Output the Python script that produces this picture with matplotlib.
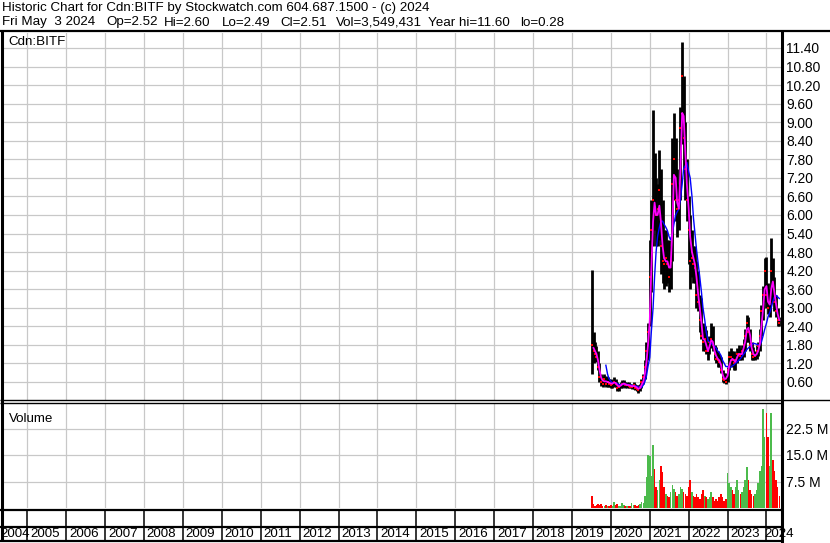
import matplotlib
matplotlib.use("Agg")
import matplotlib.pyplot as plt
from matplotlib.lines import Line2D
import numpy as np
import pandas as pd

# ---- data (semi-monthly samples) ----
dates = [
    "2019-07-08", "2019-07-22", "2019-08-05", "2019-08-19", "2019-09-02", "2019-09-16",
    "2019-10-01", "2019-10-15", "2019-11-01", "2019-11-15", "2019-12-01", "2019-12-15",
    "2020-01-01", "2020-01-15", "2020-02-01", "2020-02-15", "2020-03-01", "2020-03-15",
    "2020-04-01", "2020-04-15", "2020-05-01", "2020-05-15", "2020-06-01", "2020-06-15",
    "2020-07-01", "2020-07-15", "2020-08-01", "2020-08-15", "2020-09-01", "2020-09-15",
    "2020-10-01", "2020-10-15", "2020-11-01", "2020-11-15", "2020-12-01", "2020-12-15",
    "2021-01-01", "2021-01-15", "2021-02-01", "2021-02-15", "2021-03-01", "2021-03-15",
    "2021-04-01", "2021-04-15", "2021-05-01", "2021-05-15", "2021-06-01", "2021-06-15",
    "2021-07-01", "2021-07-15", "2021-08-01", "2021-08-15", "2021-09-01", "2021-09-15",
    "2021-10-01", "2021-10-15", "2021-11-01", "2021-11-15", "2021-12-01", "2021-12-15",
    "2022-01-01", "2022-01-15", "2022-02-01", "2022-02-15", "2022-03-01", "2022-03-15",
    "2022-04-01", "2022-04-15", "2022-05-01", "2022-05-15", "2022-06-01", "2022-06-15",
    "2022-07-01", "2022-07-15", "2022-08-01", "2022-08-15", "2022-09-01", "2022-09-15",
    "2022-10-01", "2022-10-15", "2022-11-01", "2022-11-15", "2022-12-01", "2022-12-15",
    "2023-01-01", "2023-01-15", "2023-02-01", "2023-02-15", "2023-03-01", "2023-03-15",
    "2023-04-01", "2023-04-15", "2023-05-01", "2023-05-15", "2023-06-01", "2023-06-15",
    "2023-07-01", "2023-07-15", "2023-08-01", "2023-08-15", "2023-09-01", "2023-09-15",
    "2023-10-01", "2023-10-15", "2023-11-01", "2023-11-15", "2023-12-01", "2023-12-15",
    "2024-01-01", "2024-01-15", "2024-02-01", "2024-02-15", "2024-03-01", "2024-03-15",
    "2024-04-01", "2024-04-15", "2024-05-01",
]
high = [
    4.22, 2.20, 1.90, 1.75, 1.60, 1.20, 0.85, 0.80, 0.85, 0.80, 0.75, 0.70,
    0.70, 0.65, 0.75, 0.70, 0.60, 0.55, 0.60, 0.65, 0.65, 0.60, 0.60, 0.60,
    0.55, 0.55, 0.60, 0.55, 0.50, 0.50, 0.55, 0.70, 0.85, 1.30, 1.90, 2.50,
    5.20, 6.50, 9.40, 8.00, 7.20, 7.00, 8.10, 7.50, 6.50, 5.50, 5.50, 5.20,
    5.20, 5.00, 8.50, 9.30, 8.50, 7.50, 7.00, 9.50, 11.60, 10.50, 9.00, 7.80,
    6.60, 6.00, 5.50, 5.00, 5.00, 4.50, 4.20, 3.40, 3.30, 2.50, 2.40, 2.27,
    1.90, 2.10, 2.50, 2.40, 1.80, 1.72, 1.60, 1.50, 1.40, 1.00, 0.90, 0.90,
    1.10, 1.60, 1.70, 1.60, 1.60, 1.50, 1.70, 1.80, 1.70, 1.80, 2.00, 2.30,
    2.76, 2.70, 2.30, 1.90, 1.72, 1.60, 1.80, 1.90, 2.30, 3.10, 3.70, 4.60,
    4.64, 3.80, 3.60, 5.25, 4.60, 4.00, 3.40, 3.00, 2.70,
]
low = [
    0.85, 1.20, 1.30, 1.25, 1.00, 0.60, 0.48, 0.45, 0.50, 0.45, 0.45, 0.45,
    0.40, 0.40, 0.45, 0.45, 0.30, 0.30, 0.40, 0.40, 0.45, 0.40, 0.42, 0.40,
    0.40, 0.38, 0.38, 0.35, 0.30, 0.25, 0.30, 0.40, 0.55, 0.70, 1.00, 1.30,
    2.40, 3.50, 5.00, 5.50, 5.00, 5.00, 5.20, 4.10, 3.80, 3.60, 3.70, 3.80,
    3.50, 3.60, 4.50, 6.50, 5.80, 5.30, 5.50, 6.50, 8.30, 7.50, 6.50, 5.80,
    4.40, 3.60, 4.00, 3.80, 3.80, 3.00, 2.90, 2.20, 2.00, 1.60, 1.60, 1.50,
    1.30, 1.50, 1.70, 1.60, 1.30, 1.20, 1.10, 1.10, 0.90, 0.60, 0.56, 0.55,
    0.60, 1.00, 1.20, 1.10, 1.00, 0.98, 1.20, 1.30, 1.30, 1.30, 1.40, 1.60,
    1.90, 1.90, 1.60, 1.30, 1.30, 1.30, 1.35, 1.45, 1.60, 2.10, 2.60, 3.20,
    3.00, 2.80, 2.70, 3.20, 3.20, 2.90, 2.70, 2.40, 2.40,
]
close = [
    1.80, 1.60, 1.50, 1.40, 1.10, 0.75, 0.60, 0.55, 0.70, 0.55, 0.60, 0.55,
    0.50, 0.55, 0.60, 0.55, 0.40, 0.45, 0.50, 0.55, 0.55, 0.50, 0.50, 0.48,
    0.45, 0.45, 0.50, 0.42, 0.38, 0.35, 0.45, 0.60, 0.75, 1.10, 1.60, 2.20,
    4.00, 5.50, 6.50, 6.20, 6.00, 6.20, 6.80, 5.00, 4.50, 4.40, 4.60, 4.40,
    4.00, 4.50, 7.00, 7.80, 6.50, 6.20, 6.50, 8.80, 10.50, 8.50, 7.50, 6.50,
    5.50, 4.50, 4.60, 4.40, 4.30, 3.40, 3.20, 2.60, 2.10, 1.90, 2.00, 1.60,
    1.60, 1.90, 2.00, 1.80, 1.50, 1.35, 1.30, 1.25, 1.00, 0.70, 0.65, 0.60,
    1.00, 1.40, 1.40, 1.30, 1.20, 1.30, 1.50, 1.50, 1.45, 1.60, 1.80, 2.10,
    2.50, 2.20, 1.80, 1.50, 1.40, 1.45, 1.60, 1.75, 2.10, 2.90, 3.40, 4.20,
    3.40, 3.00, 3.20, 4.20, 3.80, 3.20, 2.90, 2.60, 2.51,
]
ma_short = [
    None, 1.70, 1.60, 1.50, 1.30, 1.00, 0.75, 0.65, 0.62, 0.62, 0.60, 0.58,
    0.55, 0.55, 0.58, 0.57, 0.50, 0.45, 0.48, 0.52, 0.55, 0.53, 0.50, 0.50,
    0.48, 0.46, 0.47, 0.46, 0.42, 0.38, 0.40, 0.50, 0.62, 0.85, 1.25, 1.80,
    2.60, 4.20, 5.80, 6.40, 6.00, 6.00, 6.30, 5.80, 5.00, 4.60, 4.50, 4.50,
    4.30, 4.30, 5.50, 7.30, 7.20, 6.40, 6.20, 7.40, 9.30, 9.20, 8.00, 7.00,
    6.20, 5.30, 4.80, 4.60, 4.40, 4.00, 3.40, 3.00, 2.50, 2.00, 1.95, 1.80,
    1.60, 1.75, 1.95, 1.90, 1.60, 1.45, 1.35, 1.30, 1.15, 0.85, 0.70, 0.70,
    0.80, 1.10, 1.30, 1.35, 1.30, 1.25, 1.40, 1.50, 1.50, 1.50, 1.70, 1.90,
    2.30, 2.35, 2.10, 1.70, 1.50, 1.45, 1.50, 1.60, 1.85, 2.40, 3.00, 3.60,
    3.70, 3.20, 3.10, 3.60, 3.85, 3.50, 3.10, 2.80, 2.60,
]
ma_long = [
    None, None, None, None, None, None, None, None, None, 1.14, 0.85, 0.70,
    0.62, 0.58, 0.58, 0.57, 0.55, 0.52, 0.52, 0.52, 0.52, 0.52, 0.52, 0.51,
    0.50, 0.49, 0.48, 0.47, 0.46, 0.44, 0.42, 0.42, 0.50, 0.60, 0.80, 1.10,
    1.40, 2.20, 3.00, 4.00, 4.80, 5.30, 5.60, 5.80, 5.80, 5.70, 5.60, 5.50,
    5.30, 5.20, 5.40, 5.70, 6.00, 6.10, 6.20, 6.50, 7.00, 7.50, 7.60, 7.70,
    7.40, 7.20, 6.60, 5.90, 5.40, 4.90, 4.40, 4.00, 3.50, 3.00, 2.60, 2.20,
    1.95, 1.90, 1.85, 1.80, 1.75, 1.70, 1.60, 1.55, 1.45, 1.30, 1.20, 1.10,
    1.10, 1.08, 1.08, 1.12, 1.15, 1.20, 1.25, 1.30, 1.35, 1.42, 1.50, 1.57,
    1.65, 1.70, 1.75, 1.80, 1.85, 1.84, 1.82, 1.80, 1.80, 1.90, 2.10, 2.30,
    2.50, 2.70, 2.85, 3.00, 3.20, 3.35, 3.40, 3.35, 3.30,
]
volume_m = [
    3.5, 1.0, 0.6, 0.8, 1.2, 0.8, 1.0, 0.7, 0.5, 0.8, 0.6, 0.5,
    0.8, 0.6, 1.8, 0.9, 1.0, 0.7, 0.6, 1.3, 0.8, 0.6, 0.5, 0.7,
    0.6, 1.5, 0.9, 0.8, 0.6, 0.8, 1.0, 1.8, 1.5, 3.5, 8.9, 14.9,
    14.6, 9.0, 17.7, 11.0, 6.0, 5.0, 8.0, 12.0, 10.3, 6.0, 4.0, 3.5,
    3.0, 4.5, 6.5, 5.5, 4.5, 3.5, 4.0, 6.0, 5.5, 4.5, 4.0, 3.5,
    6.0, 7.8, 4.5, 3.5, 3.0, 4.0, 3.0, 2.5, 4.0, 5.0, 3.5, 3.0,
    2.5, 3.0, 4.5, 3.0, 2.0, 2.5, 2.0, 3.0, 4.0, 3.0, 2.0, 2.5,
    9.8, 7.0, 6.0, 5.0, 4.0, 6.0, 7.8, 5.0, 4.0, 4.5, 6.0, 8.0,
    11.7, 8.0, 5.0, 4.0, 3.5, 4.0, 5.0, 7.0, 10.6, 12.0, 27.9, 20.0,
    26.8, 20.0, 12.0, 26.8, 13.5, 10.6, 8.0, 6.0, 3.5,
]
years = list(range(2004, 2025))
price_ticks = [0.6 * k for k in range(1, 20)]
vol_ticks = [7.5, 15.0, 22.5]

header1 = "Historic Chart for Cdn:BITF by Stockwatch.com 604.687.1500 - (c) 2024"
header2_fields = ["Fri May  3 2024", "Op=2.52", "Hi=2.60", "Lo=2.49", "Cl=2.51",
                  "Vol=3,549,431", "Year hi=11.60", "lo=0.28"]
header2_px = [2, 106, 164, 222, 280, 336, 428, 520]

# ---- layout in pixels ----
W, H = 830, 543
FONT = "Liberation Sans"
FS = 9.6
GRID = "#c8c8c8"
XL = (2004.373, 2024.399)


def fx(px):
    return px / W


def fy(py):
    return 1 - py / H


def rect(x0, y0, x1, y1):
    return [fx(x0), fy(y1), fx(x1) - fx(x0), fy(y0) - fy(y1)]


def hline(fig, y, x0, x1, lw):
    fig.add_artist(Line2D([fx(x0), fx(x1)], [fy(y), fy(y)], color="black",
                          lw=lw, transform=fig.transFigure, solid_capstyle="butt"))


def vline(fig, x, y0, y1, lw):
    fig.add_artist(Line2D([fx(x), fx(x)], [fy(y0), fy(y1)], color="black",
                          lw=lw, transform=fig.transFigure, solid_capstyle="butt"))


dt = pd.to_datetime(dates)
t = (dt.year + (dt.dayofyear - 1) / np.where(dt.is_leap_year, 366, 365)).to_numpy()
high = np.array(high)
low = np.array(low)
close = np.array(close)
ma_s = np.array([np.nan if v is None else v for v in ma_short])
ma_l = np.array([np.nan if v is None else v for v in ma_long])
vol = np.array(volume_m)
up = np.concatenate([[False], close[1:] >= close[:-1]])
vol_colors = np.where(up, "#4cbb4c", "#ff0000")

plt.rcParams["font.family"] = [FONT, "DejaVu Sans"]

fig = plt.figure(figsize=(W / 100, H / 100), dpi=100)
fig.patch.set_facecolor("white")

# ---- price panel ----
ax = fig.add_axes(rect(3, 33, 782, 400))
ax.set_xlim(*XL)
ax.set_ylim(0.017, 11.885)
ax.set_xticks(years[1:])
ax.set_yticks(price_ticks)
ax.set_yticklabels([f"{v:.2f}" for v in price_ticks])
ax.yaxis.tick_right()
ax.tick_params(axis="y", length=0, pad=3, labelsize=FS + 0.3)
ax.tick_params(axis="x", length=0, labelbottom=False)
ax.grid(True, color=GRID, lw=0.9)
ax.set_axisbelow(True)
for s in ax.spines.values():
    s.set_visible(False)

ax.vlines(t, low, high, color="black", lw=2.0, zorder=2)
ax.plot(t, close, "s", color="red", ms=1.6, mew=0, zorder=3)
ax.plot(t, ma_l, color="#0000ff", lw=1.0, zorder=4)
ax.plot(t, ma_s, color="#ff00ff", lw=1.3, zorder=5)
ax.text(0.0065, 0.975, "Cdn:BITF", transform=ax.transAxes, fontsize=FS,
        va="center", ha="left")

# ---- volume panel ----
axv = fig.add_axes(rect(3, 403, 782, 508))
axv.set_xlim(*XL)
axv.set_ylim(0, 7.5 * (508 - 403) / 26.5)
axv.set_xticks(years[1:])
axv.set_yticks(vol_ticks)
axv.set_yticklabels([f"{v:.1f} M" for v in vol_ticks])
axv.yaxis.tick_right()
axv.tick_params(axis="y", length=0, pad=3, labelsize=FS + 0.3)
axv.tick_params(axis="x", length=0, labelbottom=False)
axv.grid(True, color=GRID, lw=0.9)
axv.set_axisbelow(True)
for s in axv.spines.values():
    s.set_visible(False)
axv.bar(t, vol, width=0.04, color=vol_colors, align="center", zorder=2)
axv.text(0.0075, 0.85, "Volume", transform=axv.transAxes, fontsize=FS,
         va="center", ha="left")

# ---- date strip ----
axd = fig.add_axes(rect(3, 510, 782, 541))
axd.set_xlim(*XL)
axd.set_ylim(0, 1)
axd.axis("off")
for y in years[1:]:
    axd.axvline(y, color="black", lw=1.1)
for i, y in enumerate(years):
    if i == 0:
        xpos = XL[0] - 0.07
    elif i == len(years) - 1:
        xpos = y - 0.06
    else:
        xpos = y + 0.07
    axd.text(xpos, 0.23, str(y), ha="left", va="center", fontsize=FS,
             clip_on=False)

# ---- frame lines ----
hline(fig, 31, 0, 830, 1.6)
hline(fig, 400, 0, 830, 1.0)
hline(fig, 403, 0, 782, 1.0)
hline(fig, 510, 0, 782, 1.6)
hline(fig, 527, 0, 782, 1.6)
hline(fig, 541, 0, 782, 1.6)
vline(fig, 1.5, 31, 541, 2.2)
vline(fig, 782, 31, 543, 2.2)

fig.text(fx(2), fy(8.5), header1, fontsize=FS, va="center", ha="left")
for label, px in zip(header2_fields, header2_px):
    fig.text(fx(px), fy(22.5), label, fontsize=FS, va="center", ha="left")

fig.savefig("out.png", dpi=100)
plt.close(fig)
